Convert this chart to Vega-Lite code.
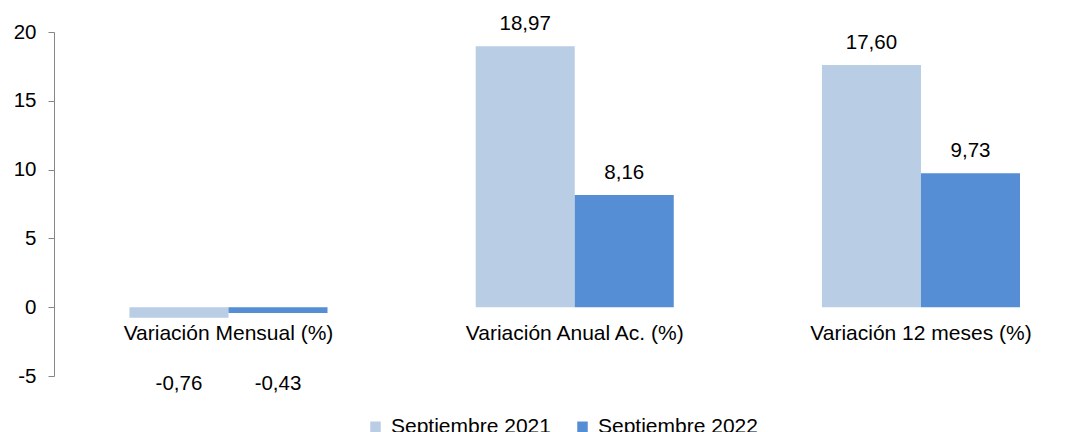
{
  "$schema": "https://vega.github.io/schema/vega-lite/v6.json",
  "width": 1026,
  "height": 344,
  "autosize": {"type": "none"},
  "padding": {"left": 54, "top": 32, "right": 0, "bottom": 56},
  "config": {
    "font": "Liberation Sans",
    "view": {"stroke": null},
    "locale": {"number": {"decimal": ",", "thousands": ".", "grouping": [3], "currency": ["", " €"], "minus": "-"}}
  },
  "data": {
    "values": [
      {"category": "Variación Mensual (%)", "series": "Septiembre 2021", "value": -0.76},
      {"category": "Variación Mensual (%)", "series": "Septiembre 2022", "value": -0.43},
      {"category": "Variación Anual Ac. (%)", "series": "Septiembre 2021", "value": 18.97},
      {"category": "Variación Anual Ac. (%)", "series": "Septiembre 2022", "value": 8.16},
      {"category": "Variación 12 meses (%)", "series": "Septiembre 2021", "value": 17.60},
      {"category": "Variación 12 meses (%)", "series": "Septiembre 2022", "value": 9.73}
    ]
  },
  "encoding": {
    "x": {
      "field": "category", "type": "nominal", "sort": null, "axis": null,
      "scale": {"paddingInner": 0.428, "paddingOuter": 0.1956, "align": 0.557}
    }
  },
  "layer": [
    {
      "mark": {"type": "bar"},
      "encoding": {
        "xOffset": {"field": "series", "type": "nominal", "scale": {"paddingInner": 0, "paddingOuter": 0}},
        "y": {
          "field": "value", "type": "quantitative",
          "scale": {"domain": [-5, 20], "nice": false, "zero": false},
          "axis": {
            "values": [-5, 0, 5, 10, 15, 20], "title": null, "grid": false,
            "domainColor": "#868686", "tickColor": "#868686", "tickSize": 6,
            "labelFontSize": 20.5, "labelColor": "#000000", "labelPadding": 12,
            "format": "d"
          }
        },
        "color": {
          "field": "series", "type": "nominal",
          "scale": {"domain": ["Septiembre 2021", "Septiembre 2022"], "range": ["#B9CDE5", "#558ED5"]},
          "legend": {
            "orient": "none", "legendX": 311, "legendY": 384,
            "direction": "horizontal", "title": null,
            "symbolType": "square", "symbolSize": 110, "symbolStrokeWidth": 0,
            "labelFontSize": 21, "labelColor": "#000000", "labelOffset": 5,
            "columnPadding": 21
          }
        }
      }
    },
    {
      "mark": {"type": "rule", "color": "#868686", "strokeWidth": 1.5},
      "encoding": {"y": {"datum": 0}}
    },
    {
      "transform": [{"filter": "datum.value >= 0"}],
      "mark": {"type": "text", "fontSize": 20.5, "baseline": "alphabetic", "dy": -16, "color": "#000000"},
      "encoding": {
        "xOffset": {"field": "series", "type": "nominal"},
        "y": {"field": "value", "type": "quantitative"},
        "text": {"field": "value", "type": "quantitative", "format": ".2f"}
      }
    },
    {
      "transform": [{"filter": "datum.value < 0"}],
      "mark": {"type": "text", "fontSize": 20.5, "baseline": "alphabetic", "color": "#000000"},
      "encoding": {
        "xOffset": {"field": "series", "type": "nominal"},
        "y": {"datum": -6},
        "text": {"field": "value", "type": "quantitative", "format": ".2f"}
      }
    },
    {
      "transform": [{"filter": "datum.series === 'Septiembre 2021'"}],
      "mark": {"type": "text", "fontSize": 21, "baseline": "alphabetic", "dy": 33, "color": "#000000"},
      "encoding": {
        "y": {"datum": 0},
        "text": {"field": "category", "type": "nominal"}
      }
    }
  ]
}
